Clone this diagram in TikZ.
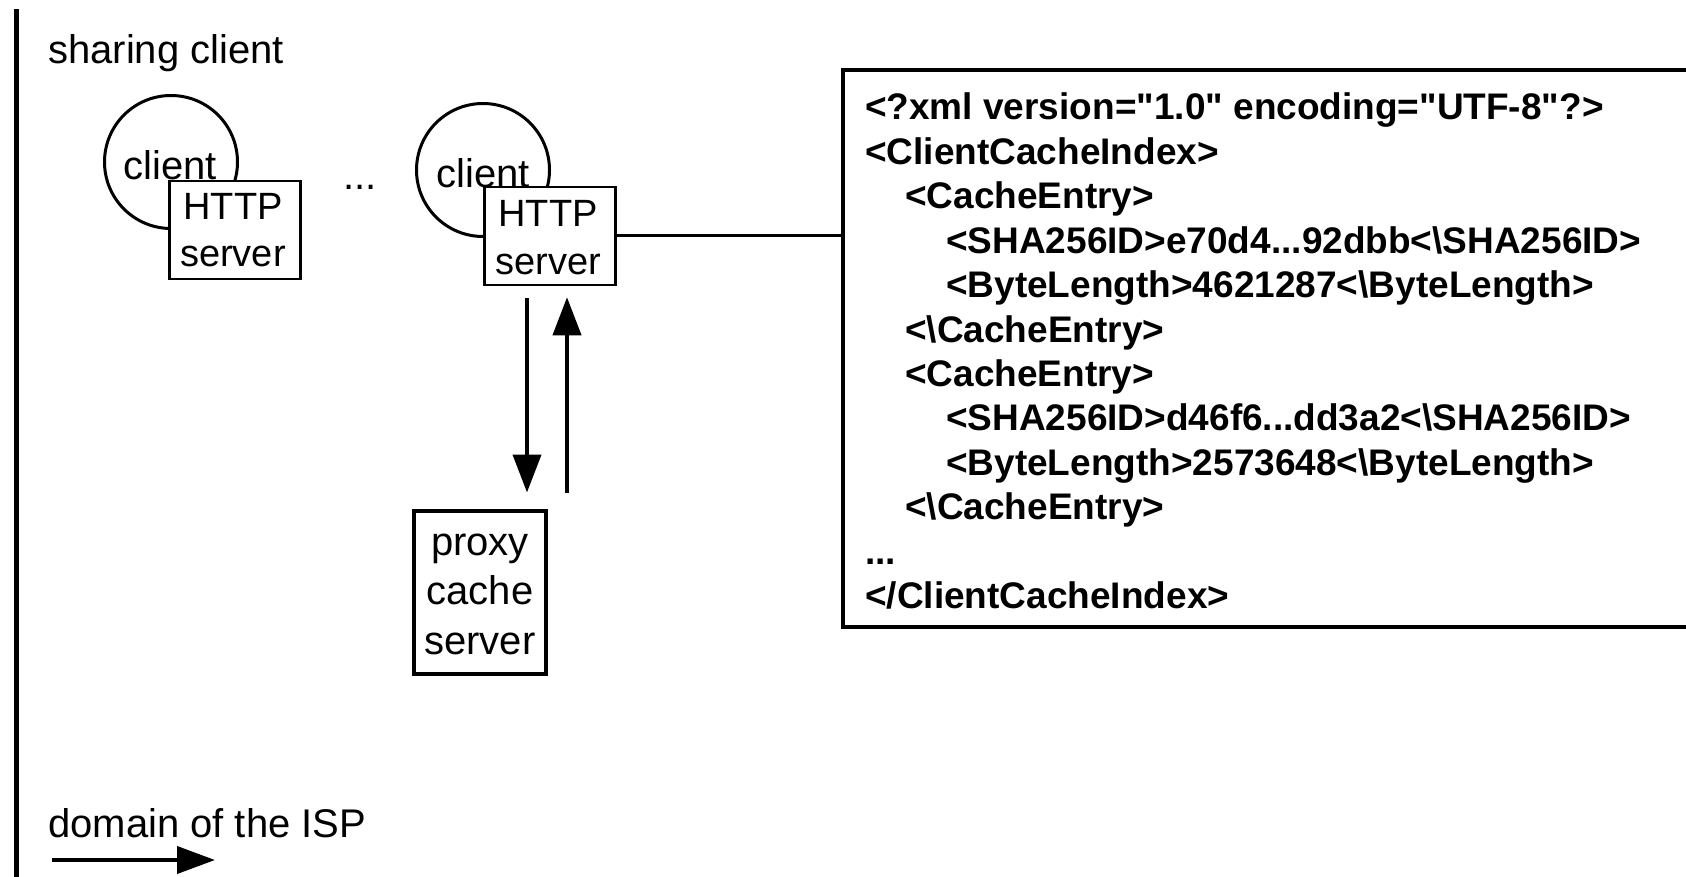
\documentclass[tikz,border=0pt]{standalone}
\usepackage{fontspec}
\setmainfont{Liberation Sans}
\usetikzlibrary{arrows.meta,calc}
\begin{document}
\begin{tikzpicture}[x=1pt,y=-1pt,
  lbl/.style={inner sep=0pt, font=\fontsize{40}{48}\selectfont},
  boxlbl/.style={inner sep=0pt, anchor=base, font=\fontsize{38}{46}\selectfont},
  code/.style={inner sep=0pt, anchor=base west, font=\bfseries\fontsize{37}{44}\selectfont},
  srvbox/.style={draw, line width=2.5pt, fill=white, minimum width=131pt, minimum height=98pt, inner sep=0pt},
  peer/.style={draw, circle, line width=3pt, minimum size=133pt, inner sep=0pt},
  flow/.style={line width=4pt, -{Triangle[length=38pt,width=28pt]}},
  frame/.style={draw, line width=4pt, inner sep=0pt},
]
\useasboundingbox (0,0) rectangle (1686,877);
\clip (0,0) rectangle (1686,877);

% boundary of the sharing client
\draw[line width=5pt] (16,9) -- (16,877);
\node[lbl, anchor=base west] (title) at (48,64) {sharing client};

% first client with its HTTP server
\node[peer] (c1) at (171,162) {};
\node[lbl, anchor=base] (c1t) at (170,180) {client};
\node[srvbox] (h1) at (235,230) {};
\node[boxlbl] (h1a) at (233,220) {HTTP};
\node[boxlbl] (h1b) at (233,267) {server};

\node[lbl, anchor=base] (dots) at (360,190) {...};

% second client with its HTTP server
\node[peer] (c2) at (483,170) {};
\node[lbl, anchor=base] (c2t) at (483,188) {client};
\node[srvbox] (h2) at (550,236) {};
\node[boxlbl] (h2a) at (548,227) {HTTP};
\node[boxlbl] (h2b) at (548,275) {server};

% cache index published by the HTTP server
\node[frame, anchor=north west, minimum width=900pt, minimum height=557pt] (xml) at (841,68) {};
\node[code] (l1)  at (865,120)   {<?xml version=\textquotedbl 1.0\textquotedbl\ encoding=\textquotedbl UTF-8\textquotedbl ?>};
\node[code] (l2)  at (865,164.4) {<ClientCacheIndex>};
\node[code] (l3)  at (905,208.8) {<CacheEntry>};
\node[code] (l4)  at (946,253.2) {<SHA256ID>e70d4...92dbb<\textbackslash SHA256ID>};
\node[code] (l5)  at (946,297.6) {<ByteLength>4621287<\textbackslash ByteLength>};
\node[code] (l6)  at (905,342)   {<\textbackslash CacheEntry>};
\node[code] (l7)  at (905,386.4) {<CacheEntry>};
\node[code] (l8)  at (946,430.8) {<SHA256ID>d46f6...dd3a2<\textbackslash SHA256ID>};
\node[code] (l9)  at (946,475.2) {<ByteLength>2573648<\textbackslash ByteLength>};
\node[code] (l10) at (905,519.6) {<\textbackslash CacheEntry>};
\node[code] (l11) at (865,564)   {...};
\node[code] (l12) at (865,608.4) {</ClientCacheIndex>};

\draw[line width=3pt] (h2.east) -- (xml.west |- h2.east);

% proxy cache server of the ISP
\node[frame, minimum width=132pt, minimum height=163pt] (px) at (480,592) {};
\node[boxlbl, font=\fontsize{40}{48}\selectfont] (pxa) at (480,555) {proxy};
\node[boxlbl, font=\fontsize{40}{48}\selectfont] (pxb) at (480,604.5) {cache};
\node[boxlbl, font=\fontsize{40}{48}\selectfont] (pxc) at (480,654) {server};

\coordinate (dn) at (527,0);
\coordinate (up) at (567,0);
\draw[flow, shorten <=12pt, shorten >=16pt] (h2.south -| dn) -- (px.north -| dn);
\draw[flow, shorten <=16pt, shorten >=11pt] (px.north -| up) -- (h2.south -| up);

% domain of the ISP
\node[lbl, anchor=base west] (isp) at (48,837) {domain of the ISP};
\coordinate (ispa) at (52,860);
\coordinate (ispb) at (215,860);
\draw[flow, -{Triangle[length=38pt,width=27pt]}] (ispa) -- (ispb);
\end{tikzpicture}
\end{document}
